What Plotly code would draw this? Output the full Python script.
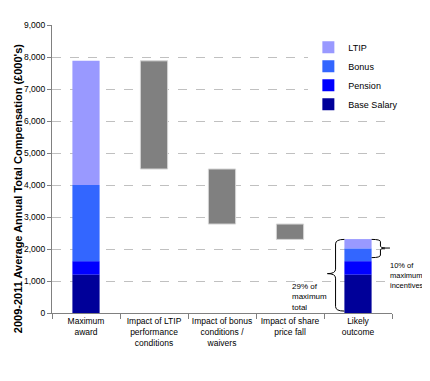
import plotly.graph_objects as go

categories = ["Maximum<br>award", "Impact of LTIP<br>performance<br>conditions",
              "Impact of bonus<br>conditions /<br>waivers", "Impact of share<br>price fall",
              "Likely<br>outcome"]
base_salary = [1200, None, None, None, 1200]
pension = [420, None, None, None, 420]
bonus = [2380, None, None, None, 400]
ltip = [3880, None, None, None, 290]
reductions = [None, 3380, 1720, 480, None]

FONT = "Liberation Sans, Arial, sans-serif"

def add(a, b):
    return [(x or 0) + (y or 0) for x, y in zip(a, b)]

b_pension = add(base_salary, [0] * 5)
b_bonus = add(b_pension, pension)
b_ltip = add(b_bonus, bonus)
total_max = b_ltip[0] + ltip[0]
red_base = []
level = total_max
for r in reductions:
    if r is None:
        red_base.append(None)
    else:
        level -= r
        red_base.append(level)

fig = go.Figure()
W = 0.4
fig.add_trace(go.Bar(x=categories, y=base_salary, name="Base Salary", marker_color="#000099",
                     marker_line_width=0, width=W))
fig.add_trace(go.Bar(x=categories, y=pension, base=b_pension, name="Pension", marker_color="#0000FF",
                     marker_line_width=0, width=W))
fig.add_trace(go.Bar(x=categories, y=bonus, base=b_bonus, name="Bonus", marker_color="#3366FF",
                     marker_line_width=0, width=W))
fig.add_trace(go.Bar(x=categories, y=ltip, base=b_ltip, name="LTIP", marker_color="#9999FF",
                     marker_line_width=0, width=W))
fig.add_trace(go.Bar(x=categories, y=reductions, base=red_base, name="Reduction", marker_color="#808080",
                     marker_line=dict(color="#D4D4D4", width=1), width=W, showlegend=False))

# brackets
left_br = ("M 3.80,2300 Q 3.67,2300 3.67,2160 L 3.67,1370 Q 3.67,1230 3.55,1230 "
           "Q 3.67,1230 3.67,1090 L 3.67,200 Q 3.67,60 3.80,60")
right_br = ("M 4.20,2300 Q 4.33,2300 4.33,2230 L 4.33,2090 Q 4.33,2030 4.40,2030 L 4.47,2030 "
            "M 4.40,2030 Q 4.33,2030 4.33,1970 L 4.33,1810 Q 4.33,1730 4.20,1730")
fig.add_shape(type="path", path=left_br, xref="x", yref="y", line=dict(color="black", width=1))
fig.add_shape(type="path", path=right_br, xref="x", yref="y", line=dict(color="black", width=1))

fig.add_annotation(x=3, y=490, xref="x", yref="y", text="29% of<br>maximum<br>total",
                   showarrow=False, xanchor="left", yanchor="middle", align="left",
                   font=dict(family=FONT, size=8, color="black"))
fig.add_annotation(x=4.44, y=1170, xref="x", yref="y", text="10% of<br>maximum<br>incentives",
                   showarrow=False, xanchor="left", yanchor="middle", align="left",
                   font=dict(family=FONT, size=7.5, color="black"))
fig.add_annotation(x=-0.1, y=0.43, xref="paper", yref="paper",
                   text="2009-2011 Average Annual Total Compensation (£000's)",
                   textangle=-90, showarrow=False, xanchor="center", yanchor="middle",
                   font=dict(family=FONT, size=11, color="black", weight="bold"))

# page body adds an 8px offset, so the figure is sized to fit the 430x381 window
fig.update_layout(
    width=422, height=365,
    margin=dict(l=44, r=38, t=12, b=60),
    paper_bgcolor="white", plot_bgcolor="white",
    barmode="overlay",
    showlegend=True,
    legend=dict(x=0.754, y=0.973, xanchor="left", yanchor="top", traceorder="reversed",
                bgcolor="white", font=dict(family=FONT, size=9, color="black"),
                borderwidth=0),
    font=dict(family=FONT, size=9, color="black"),
)
fig.update_xaxes(type="category", range=[-0.5, 4.5], autorange=False,
                 showline=True, linecolor="#808080", linewidth=1,
                 ticks="outside", tickson="boundaries", tickcolor="#808080", ticklen=5,
                 tickangle=0, showgrid=False, tickfont=dict(family=FONT, size=8.5, color="black"))
fig.update_yaxes(range=[0, 9000], autorange=False, dtick=1000, tickformat=",", showline=True,
                 linecolor="#808080", linewidth=1, ticks="outside", tickcolor="#808080", ticklen=4,
                 showgrid=True, gridcolor="#C0C0C0", griddash="dash", gridwidth=1,
                 zeroline=False, tickfont=dict(family=FONT, size=8.5, color="black"))

fig.write_html("out.html")
